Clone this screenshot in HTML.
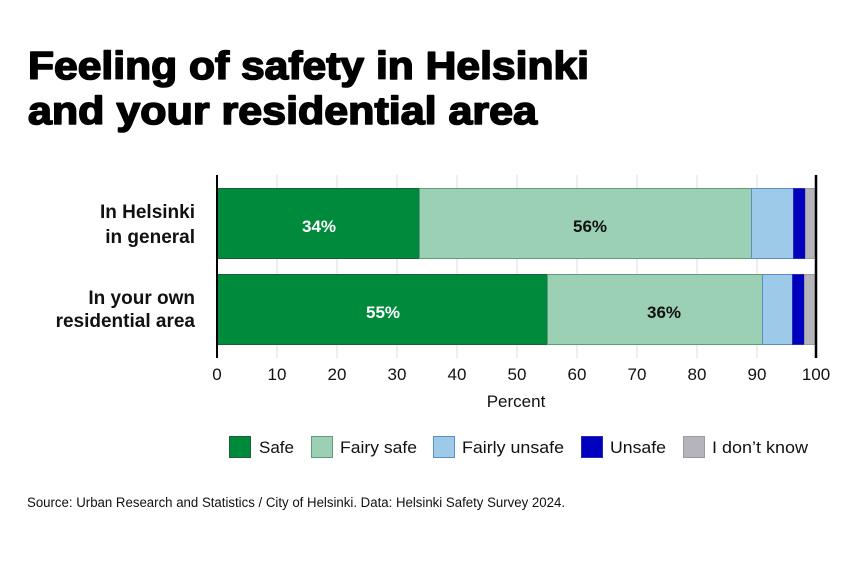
<!DOCTYPE html>
<html><head><meta charset="utf-8"><style>
html,body{margin:0;padding:0;background:#fff;}
svg{display:block;}
text{font-family:"Liberation Sans",sans-serif;fill:#111;}
</style></head><body>
<svg width="863" height="576" viewBox="0 0 863 576" xmlns="http://www.w3.org/2000/svg">
<rect width="863" height="576" fill="#fff"/>
<!-- title -->
<text x="28" y="79" font-size="39" font-weight="bold" textLength="561" lengthAdjust="spacingAndGlyphs" style="fill:#000;stroke:#000;stroke-width:1.6px;stroke-linejoin:round">Feeling of safety in Helsinki</text>
<text x="28" y="124" font-size="39" font-weight="bold" textLength="509" lengthAdjust="spacingAndGlyphs" style="fill:#000;stroke:#000;stroke-width:1.6px;stroke-linejoin:round">and your residential area</text>
<!-- gridlines -->
<g stroke="#dedede" stroke-width="1">
<line x1="277" y1="175" x2="277" y2="358"/><line x1="337" y1="175" x2="337" y2="358"/>
<line x1="397" y1="175" x2="397" y2="358"/><line x1="457" y1="175" x2="457" y2="358"/>
<line x1="517" y1="175" x2="517" y2="358"/><line x1="577" y1="175" x2="577" y2="358"/>
<line x1="637" y1="175" x2="637" y2="358"/><line x1="697" y1="175" x2="697" y2="358"/>
<line x1="757" y1="175" x2="757" y2="358"/>
</g>
<!-- bar 1 -->
<rect x="217.5" y="188.5" width="202" height="70" fill="#008a3c" stroke="#1d5e36" stroke-width="1"/>
<rect x="419.5" y="188.5" width="332" height="70" fill="#9bd0b4" stroke="#5f9c7a" stroke-width="1"/>
<rect x="751.5" y="188.5" width="42" height="70" fill="#9ecae9" stroke="#5b8fc4" stroke-width="1"/>
<rect x="793.5" y="188.5" width="12" height="70" fill="#0000bf" stroke="#2a2ab0" stroke-width="1"/>
<rect x="805.5" y="188.5" width="10" height="70" fill="#b4b4ba" stroke="#9a9aa0" stroke-width="1"/>
<!-- bar 2 -->
<rect x="217.5" y="274.5" width="330" height="70" fill="#008a3c" stroke="#1d5e36" stroke-width="1"/>
<rect x="547.5" y="274.5" width="215" height="70" fill="#9bd0b4" stroke="#5f9c7a" stroke-width="1"/>
<rect x="762.5" y="274.5" width="30" height="70" fill="#9ecae9" stroke="#5b8fc4" stroke-width="1"/>
<rect x="792.5" y="274.5" width="12" height="70" fill="#0000bf" stroke="#2a2ab0" stroke-width="1"/>
<rect x="804.5" y="274.5" width="11" height="70" fill="#b4b4ba" stroke="#9a9aa0" stroke-width="1"/>
<!-- axis lines -->
<line x1="217" y1="175" x2="217" y2="358" stroke="#000" stroke-width="2"/>
<line x1="816" y1="175" x2="816" y2="358" stroke="#000" stroke-width="2.5"/>
<!-- value labels -->
<g font-size="17" font-weight="bold" text-anchor="middle">
<text x="319" y="232" style="fill:#fff">34%</text>
<text x="590" y="232">56%</text>
<text x="383" y="318" style="fill:#fff">55%</text>
<text x="664" y="318">36%</text>
</g>
<!-- category labels -->
<g font-size="19" font-weight="bold" text-anchor="end">
<text x="195" y="218">In Helsinki</text>
<text x="195" y="243">in general</text>
<text x="195" y="304">In your own</text>
<text x="195" y="327">residential area</text>
</g>
<!-- ticks -->
<g font-size="17" text-anchor="middle">
<text x="217" y="380">0</text><text x="277" y="380">10</text><text x="337" y="380">20</text>
<text x="397" y="380">30</text><text x="457" y="380">40</text><text x="517" y="380">50</text>
<text x="577" y="380">60</text><text x="637" y="380">70</text><text x="697" y="380">80</text>
<text x="757" y="380">90</text><text x="816" y="380">100</text>
</g>
<text x="516" y="407" font-size="17" text-anchor="middle">Percent</text>
<!-- legend -->
<rect x="229.5" y="436.5" width="21" height="21" fill="#008a3c" stroke="#1d5e36"/>
<text x="259" y="453" font-size="17" textLength="35" lengthAdjust="spacingAndGlyphs">Safe</text>
<rect x="311.5" y="436.5" width="21" height="21" fill="#9bd0b4" stroke="#5f9c7a"/>
<text x="340" y="453" font-size="17" textLength="77" lengthAdjust="spacingAndGlyphs">Fairy safe</text>
<rect x="433.5" y="436.5" width="21" height="21" fill="#9ecae9" stroke="#5b8fc4"/>
<text x="462" y="453" font-size="17" textLength="102" lengthAdjust="spacingAndGlyphs">Fairly unsafe</text>
<rect x="581.5" y="436.5" width="21" height="21" fill="#0000bf" stroke="#2a2ab0"/>
<text x="610" y="453" font-size="17" textLength="56" lengthAdjust="spacingAndGlyphs">Unsafe</text>
<rect x="683.5" y="436.5" width="21" height="21" fill="#b4b4ba" stroke="#9a9aa0"/>
<text x="712" y="453" font-size="17" textLength="96" lengthAdjust="spacingAndGlyphs">I don’t know</text>
<!-- source -->
<text x="27" y="507" font-size="13.5" textLength="538" lengthAdjust="spacingAndGlyphs">Source: Urban Research and Statistics / City of Helsinki. Data: Helsinki Safety Survey 2024.</text>
</svg>
</body></html>
